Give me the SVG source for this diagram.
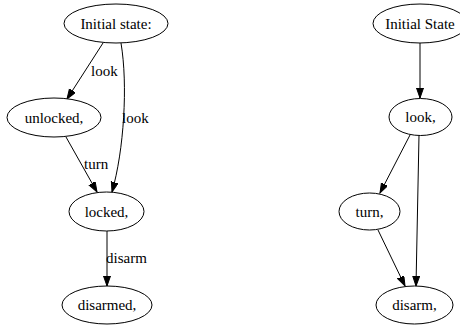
<svg xmlns="http://www.w3.org/2000/svg" width="460" height="325" viewBox="0 0 460 325" font-family="'Liberation Serif', serif" font-size="15">
<style>
.n ellipse{fill:#fff;stroke:#000;stroke-width:1}
text{font-family:'Liberation Serif','Times New Roman',serif;font-size:15px;fill:#000}
.n text{text-anchor:middle}
.e path{fill:none;stroke:#000;stroke-width:1}
</style>
<defs>
<marker id="ah" markerUnits="userSpaceOnUse" markerWidth="11" markerHeight="8" refX="10" refY="3.5" orient="auto" viewBox="0 0 11 8">
<path d="M0,0 L10,3.5 L0,7 z" fill="#000" stroke="#000" stroke-width="1"/>
</marker>
</defs>
<rect width="460" height="325" fill="#fff"/>
<g id="edges" class="e">
<path d="M103,43 L67,99" marker-end="url(#ah)"/>
<path d="M121,43 C128,85 124,150 112,192" marker-end="url(#ah)"/>
<path d="M66,137 L97,192" marker-end="url(#ah)"/>
<path d="M107,231 L107,286" marker-end="url(#ah)"/>
<path d="M420,43 L420,98" marker-end="url(#ah)"/>
<path d="M410,135 L380,193" marker-end="url(#ah)"/>
<path d="M419,135 L416,286" marker-end="url(#ah)"/>
<path d="M378,230 L405,286" marker-end="url(#ah)"/>
<text x="91" y="76">look</text>
<text x="122" y="123">look</text>
<text x="84" y="169">turn</text>
<text x="106" y="263">disarm</text>
</g>
<g id="n_initial" class="n"><ellipse cx="116" cy="23.5" rx="52" ry="19.5"/><text x="116" y="28.5">Initial state:</text></g>
<g id="n_unlocked" class="n"><ellipse cx="54" cy="117.5" rx="47" ry="19.5"/><text x="54" y="122.5">unlocked,</text></g>
<g id="n_locked" class="n"><ellipse cx="106.5" cy="211.5" rx="37.5" ry="19.5"/><text x="106.5" y="216.5">locked,</text></g>
<g id="n_disarmed" class="n"><ellipse cx="107" cy="305" rx="45" ry="19"/><text x="107" y="310">disarmed,</text></g>
<g id="n_initial2" class="n"><ellipse cx="420" cy="23.5" rx="47" ry="19.5"/><text x="420" y="28.5">Initial State</text></g>
<g id="n_look" class="n"><ellipse cx="420.5" cy="117" rx="31.5" ry="18.5"/><text x="420.5" y="122">look,</text></g>
<g id="n_turn" class="n"><ellipse cx="369.5" cy="211.5" rx="30.5" ry="18.5"/><text x="369.5" y="216.5">turn,</text></g>
<g id="n_disarm" class="n"><ellipse cx="414.5" cy="305" rx="38.5" ry="19"/><text x="414.5" y="310">disarm,</text></g>
</svg>
